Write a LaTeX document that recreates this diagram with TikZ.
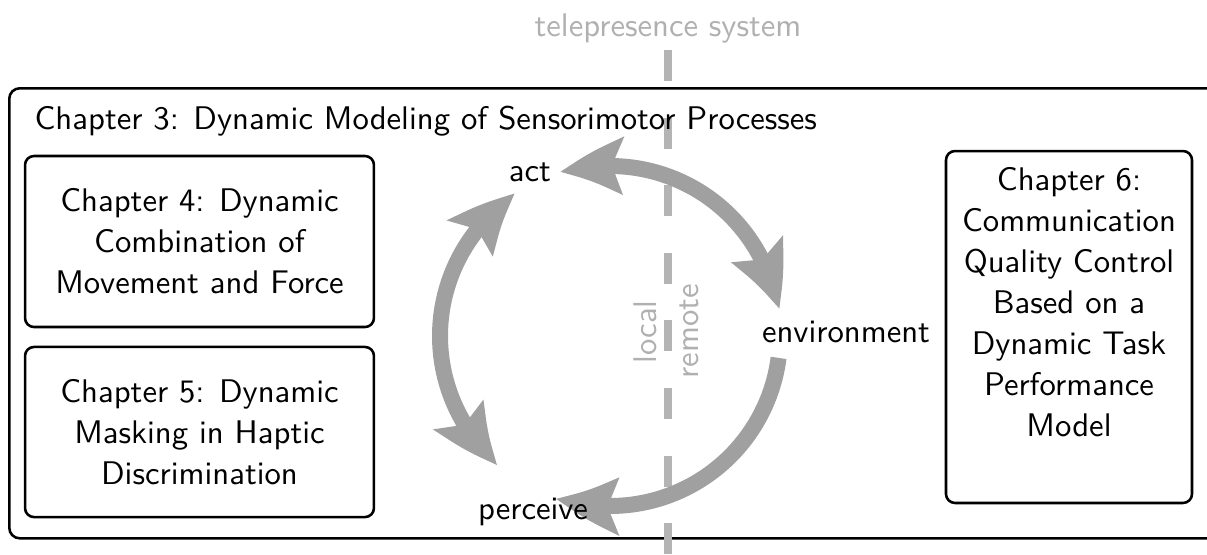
\documentclass[tikz,border=0pt]{standalone}
\usepackage{fontspec}
\usetikzlibrary{arrows.meta, bending, positioning}

\definecolor{loopgray}{RGB}{160,160,160}
\definecolor{splitgray}{RGB}{180,180,180}
\definecolor{labelgray}{RGB}{176,176,176}

\begin{document}
\begin{tikzpicture}[
    x=0.3333pt, y=-0.3333pt,
    every node/.style={font=\sffamily\fontsize{10.9}{13.67}\selectfont},
    outerbox/.style={rectangle, rounded corners=3.5pt, draw, line width=0.85pt, inner sep=0pt},
    chapbox/.style={rectangle, rounded corners=3pt, draw, line width=0.85pt, align=center, inner sep=0pt},
    splitline/.style={draw=splitgray, line width=2.67pt, dash pattern=on 10.33pt off 12.2pt},
    cyclearr/.style={draw=loopgray, line width=5.33pt, >={Stealth[length=21pt, width=18.5pt, inset=3.5pt, bend]}},
    greylabel/.style={text=labelgray}
]
\useasboundingbox (0,0) rectangle (1207,554);

% Chapter 3 frame
\node[outerbox, minimum width=407.3pt, minimum height=150pt, anchor=north west] (ch3box) at (8,87) {};

% local / remote split of the telepresence system
\coordinate (splittop) at (668,50);
\coordinate (splitbot) at (668,554);
\draw[splitline] (splittop) -- (splitbot);
\node[greylabel] (tele) at (668,28) {telepresence system};

\node[anchor=west] (ch3) at (24,121) {Chapter 3: Dynamic Modeling of Sensorimotor Processes};

% Side chapters
\node[chapbox, minimum width=116.3pt, minimum height=57pt] (ch4) at (199.5,241.5) {Chapter 4: Dynamic\\Combination of\\Movement and Force};
\node[chapbox, minimum width=116.3pt, minimum height=56.7pt] (ch5) at (199.5,432) {Chapter 5: Dynamic\\Masking in Haptic\\Discrimination};
\node[chapbox, minimum width=82pt, minimum height=117.3pt] (ch6) at (1069,327) {};
\node[align=center] (ch6txt) at (1069,302) {Chapter 6:\\Communication\\Quality Control\\Based on a\\Dynamic Task\\Performance\\Model};

% Sensorimotor loop
\coordinate (loopc) at (610,336);
\draw[cyclearr, <->] ([shift={(-107:170)}]loopc) arc[start angle=-107, end angle=-9, radius=170];
\draw[cyclearr, ->] ([shift={(7.4:170)}]loopc) arc[start angle=7.4, end angle=108.5, radius=170];
\draw[cyclearr, <->] ([shift={(-123.6:170)}]loopc) arc[start angle=-123.6, end angle=-229, radius=170];

\node (act) at (530,172) {act};
\node (env) at (846,332) {environment};
\node (perceive) at (533,512) {perceive};
\node[greylabel, rotate=90] (local) at (645,332) {local};
\node[greylabel, rotate=90] (remote) at (689,331) {remote};

\end{tikzpicture}
\end{document}
